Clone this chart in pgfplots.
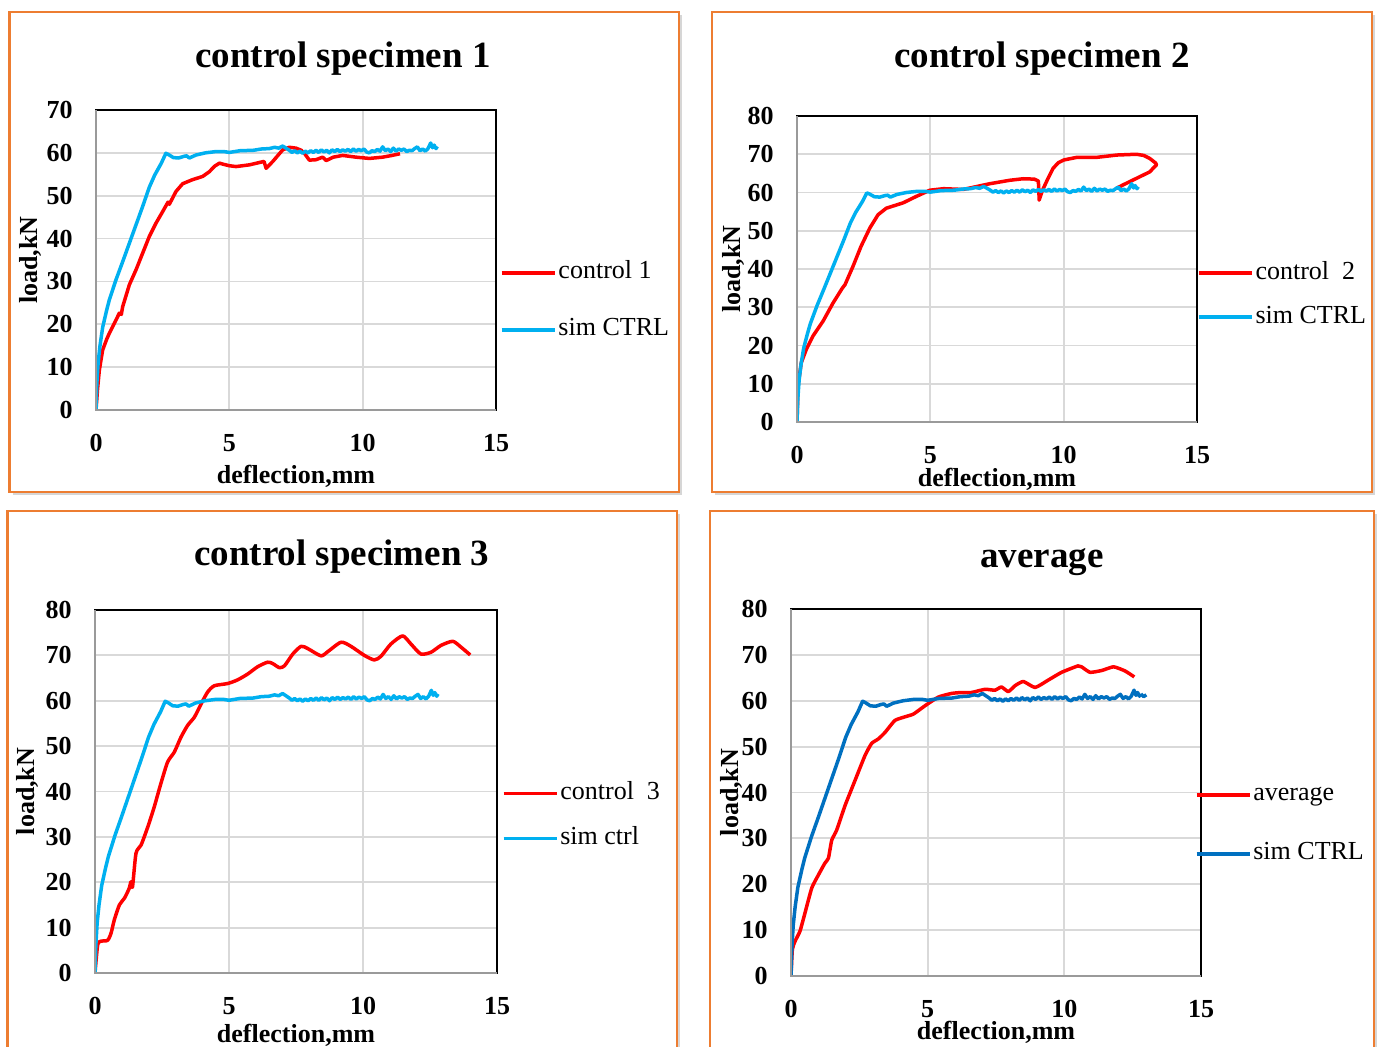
\documentclass[border=0pt]{standalone}
\usepackage{pgfplots}
\pgfplotsset{compat=1.18}
\usepackage{pgfplotstable}
\usepackage{fontspec}
\setmainfont{Liberation Serif}
\usetikzlibrary{shadows}

\definecolor{expred}{HTML}{FF0000}
\definecolor{simlight}{HTML}{00B0F0}
\definecolor{simdark}{HTML}{0070C0}
\definecolor{frameorange}{HTML}{ED7D31}
\definecolor{gridgray}{HTML}{D9D9D9}
\definecolor{axgray}{HTML}{9A9A9A}

% simulated load-deflection response of the control beam
\pgfplotstableread{
x y
0 0
0.03 6
0.08 11
0.15 15
0.25 19.3
0.4 23.3
0.5 25.7
0.75 30.4
1.0 34.6
1.25 38.9
1.5 43.2
1.75 47.5
2.0 52.0
2.2 54.8
2.45 57.6
2.62 59.9
2.72 59.6
2.9 58.9
3.1 58.8
3.3 59.2
3.4 59.3
3.5 58.8
3.75 59.5
4.1 60.0
4.5 60.3
4.8 60.3
5.0 60.1
5.4 60.5
5.9 60.6
6.2 60.9
6.5 61.0
6.7 61.3
6.85 61.1
7.0 61.6
7.1 61.2
7.25 60.6
7.35 60.1
7.45 60.5
7.55 60.0
7.65 60.4
7.75 59.9
7.85 60.4
7.95 60.0
8.05 60.5
8.15 60.1
8.25 60.6
8.35 60.1
8.45 60.7
8.55 60.2
8.65 60.6
8.75 60.0
8.85 60.7
8.95 60.3
9.05 60.8
9.15 60.3
9.25 60.7
9.35 60.4
9.45 60.8
9.55 60.3
9.65 60.9
9.75 60.4
9.85 60.8
9.95 60.5
10.05 60.9
10.15 60.2
10.25 60.0
10.35 60.5
10.45 60.3
10.55 60.8
10.65 60.4
10.75 61.4
10.85 60.5
10.95 60.9
11.05 60.3
11.15 61.1
11.25 60.4
11.35 60.9
11.45 60.6
11.55 60.9
11.65 60.3
11.75 60.6
11.85 60.5
11.95 61.0
12.05 61.4
12.15 60.5
12.25 60.9
12.35 60.4
12.45 61.0
12.55 62.3
12.62 61.2
12.68 61.8
12.75 61.0
12.8 61.5
}\simctrl

% tested specimens
\pgfplotstableread{
x y
0 0
0.06 5
0.125 9.3
0.25 14
0.4 16.5
0.5 17.9
0.75 21
0.875 22.6
0.95 22.3
1.0 24.1
1.25 29.2
1.5 32.7
1.75 36.6
2.0 40.5
2.25 43.6
2.5 46.3
2.7 48.5
2.75 48.0
3.0 51
3.25 52.8
3.6 53.7
4.0 54.5
4.25 55.6
4.45 56.9
4.63 57.6
4.8 57.3
5.0 57.0
5.25 56.8
5.75 57.2
6.3 58.0
6.38 56.4
6.63 58.0
7.0 60.7
7.25 61.3
7.5 61.1
7.7 60.6
7.85 59.6
8.0 58.3
8.25 58.4
8.5 59.0
8.63 58.2
8.9 59.0
9.25 59.4
9.75 59.0
10.25 58.7
10.75 59.0
11.1 59.4
11.4 59.8
}\ctrlA

\pgfplotstableread{
x y
0 0
0.04 9.5
0.16 15.5
0.35 19
0.6 22.5
0.98 26.4
1.35 31.1
1.7 35
1.8 35.9
2.1 40.7
2.4 45.9
2.73 50.7
3.04 54.2
3.35 55.9
3.98 57.3
4.48 59
4.98 60.6
5.5 61
6.23 60.8
7.23 62.3
7.98 63.2
8.48 63.6
8.9 63.5
9.05 63.0
9.07 60.5
9.08 58.0
9.2 60.5
9.4 63.5
9.6 66.3
9.8 67.8
10.0 68.5
10.5 69.2
11.25 69.2
12.0 69.8
12.73 70
13.0 69.7
13.23 68.9
13.45 67.7
13.48 67.2
13.35 66.3
13.23 65.4
12.73 63.7
12.23 62.0
11.98 61.1
}\ctrlB

\pgfplotstableread{
x y
0 0
0.1 6.2
0.22 7.0
0.47 7.2
0.6 8.8
0.72 11.7
0.91 15.0
1.1 16.5
1.28 18.7
1.34 20.1
1.4 19.0
1.53 26.4
1.72 28.2
1.97 32.2
2.21 36.6
2.46 41.8
2.71 46.5
2.96 48.7
3.21 52.0
3.46 54.6
3.71 56.4
3.96 59.3
4.2 61.9
4.45 63.3
4.95 63.8
5.32 64.6
5.7 65.9
6.07 67.5
6.44 68.5
6.63 68.2
6.88 67.3
7.07 67.7
7.38 70.3
7.69 72.0
7.94 71.5
8.43 69.9
8.68 70.8
9.18 72.9
9.55 72.0
10.05 70.0
10.42 69.0
10.67 69.8
11.04 72.5
11.48 74.3
11.79 72.5
12.16 70.3
12.54 70.7
12.91 72.2
13.35 73.1
13.66 71.8
14.0 70.1
}\ctrlC

\pgfplotstableread{
x y
0 0
0.05 5.8
0.15 7.6
0.33 9.8
0.51 13.7
0.76 19.2
1.0 22.0
1.24 24.6
1.37 25.7
1.49 29.6
1.67 31.8
1.98 37.2
2.34 42.6
2.71 48.1
2.95 50.7
3.2 51.7
3.44 53.1
3.8 55.7
4.17 56.5
4.48 57.1
4.9 58.9
5.39 60.8
5.88 61.6
6.24 61.8
6.6 61.8
7.1 62.5
7.46 62.3
7.7 63.0
7.95 62.0
8.2 63.3
8.5 64.2
8.93 62.9
9.41 64.5
9.9 66.2
10.5 67.6
10.63 67.4
10.94 66.2
11.37 66.6
11.8 67.4
12.22 66.5
12.56 65.2
}\ctrlAvg

\pgfplotsset{
  panel/.style={
    scale only axis,
    anchor=south west,
    xmin=0, xmax=15, ymin=0,
    xtick={0,5,10,15},
    grid=major,
    major grid style={draw=gridgray, line width=0.9pt},
    axis line style={draw=black, line width=1.1pt},
    tick style={draw=none},
    /pgf/number format/assume math mode=true,
    ticklabel style={font=\bfseries\fontsize{13}{15}\selectfont},
    yticklabel style={anchor=east, inner sep=0pt, xshift=-11.5pt},
    xticklabel style={anchor=base, inner sep=0pt, yshift=-20.5pt},
    label style={font=\bfseries\fontsize{13}{15}\selectfont, inner sep=0pt},
    title style={font=\bfseries\fontsize{18.5}{22}\selectfont, inner sep=0pt, anchor=base},
    legend cell align=left,
    legend style={draw=none, fill=none, font=\fontsize{13}{15}\selectfont,
      inner sep=0pt, outer sep=0pt, column sep=1pt, anchor=west,
      nodes={inner sep=0pt, text height=9pt, text depth=3pt}},
    legend image code/.code={\draw (0pt,0pt) -- (26.5pt,0pt);},
    every axis plot/.append style={line width=1.75pt, line join=round},
    after end axis/.code={\draw[draw=axgray, line width=1.1pt]
      (rel axis cs:0,1) -- (rel axis cs:0,0) -- (rel axis cs:1,0);},
  },
}
\tikzset{
  panelframe/.style={draw=frameorange, line width=1.1pt, fill=white,
    drop shadow={shadow xshift=1.6pt, shadow yshift=-1.6pt, opacity=0.35, fill=black!45}},
}

\begin{document}
\begin{tikzpicture}
\useasboundingbox (0,0) rectangle (688.5pt,523pt);
\fill[white] (0,0) rectangle (688.5pt,523pt);

% panel frames
\draw[panelframe] (4.75pt,277pt) rectangle (339.5pt,517pt);
\draw[panelframe] (356pt,277pt) rectangle (686pt,517pt);
\draw[panelframe] (3.75pt,-10pt) rectangle (338.5pt,267.6pt);
\draw[panelframe] (355pt,-10pt) rectangle (687pt,267.6pt);

% control specimen 1
\begin{axis}[panel,
  at={(48pt,318pt)}, width=200pt, height=150pt,
  ymax=70, ytick={0,10,...,70},
  title={control specimen 1},
  title style={at={(axis description cs:0.6175,1)}, yshift=15.5pt},
  xlabel={deflection,mm},
  xlabel style={at={(axis description cs:0.5,0)}, anchor=base, yshift=-36.5pt},
  ylabel={load,kN},
  ylabel style={at={(axis description cs:-0.165,0.5)}, anchor=center},
  legend style={at={(axis description cs:1.01,0.362)}, row sep=16.5pt},
]
\addplot[expred] table {\ctrlA};
\addlegendentry{control 1}
\addplot[simlight] table {\simctrl};
\addlegendentry{sim CTRL}
\end{axis}

% control specimen 2
\begin{axis}[panel,
  at={(398.5pt,312pt)}, width=200pt, height=153pt,
  ymax=80, ytick={0,10,...,80},
  title={control specimen 2},
  title style={at={(axis description cs:0.6125,1)}, yshift=18.5pt},
  xlabel={deflection,mm},
  xlabel style={at={(axis description cs:0.5,0)}, anchor=base, yshift=-32pt},
  ylabel={load,kN},
  ylabel style={at={(axis description cs:-0.16,0.5)}, anchor=center},
  legend style={at={(axis description cs:1.0,0.415)}, row sep=10pt},
]
\addplot[expred] table {\ctrlB};
\addlegendentry{control\ \ 2}
\addplot[simlight] table {\simctrl};
\addlegendentry{sim CTRL}
\end{axis}

% control specimen 3
\begin{axis}[panel,
  at={(47.5pt,36.5pt)}, width=201pt, height=181.5pt,
  ymax=80, ytick={0,10,...,80},
  title={control specimen 3},
  title style={at={(axis description cs:0.614,1)}, yshift=16.5pt},
  xlabel={deflection,mm},
  xlabel style={at={(axis description cs:0.5,0)}, anchor=base, yshift=-34.5pt},
  ylabel={load,kN},
  ylabel style={at={(axis description cs:-0.168,0.5)}, anchor=center},
  legend style={at={(axis description cs:1.012,0.432)}, row sep=10.5pt},
]
\addplot[expred, smooth, tension=0.4] table {\ctrlC};
\addlegendentry{control\ \ 3}
\addplot[simlight] table {\simctrl};
\addlegendentry{sim ctrl}
\end{axis}

% average of the three specimens
\begin{axis}[panel,
  at={(395.5pt,35pt)}, width=205pt, height=183.5pt,
  ymax=80, ytick={0,10,...,80},
  title={average},
  title style={at={(axis description cs:0.612,1)}, yshift=15pt},
  xlabel={deflection,mm},
  xlabel style={at={(axis description cs:0.5,0)}, anchor=base, yshift=-31.5pt},
  ylabel={load,kN},
  ylabel style={at={(axis description cs:-0.146,0.5)}, anchor=center},
  legend style={at={(axis description cs:0.985,0.413)}, row sep=17.5pt},
]
\addplot[expred, smooth, tension=0.3] table {\ctrlAvg};
\addlegendentry{average}
\addplot[simdark] table {\simctrl};
\addlegendentry{sim CTRL}
\addplot[simdark, forget plot] coordinates {(12.8,61.5) (12.9,60.9) (13.0,61.3)};
\end{axis}
\end{tikzpicture}
\end{document}
